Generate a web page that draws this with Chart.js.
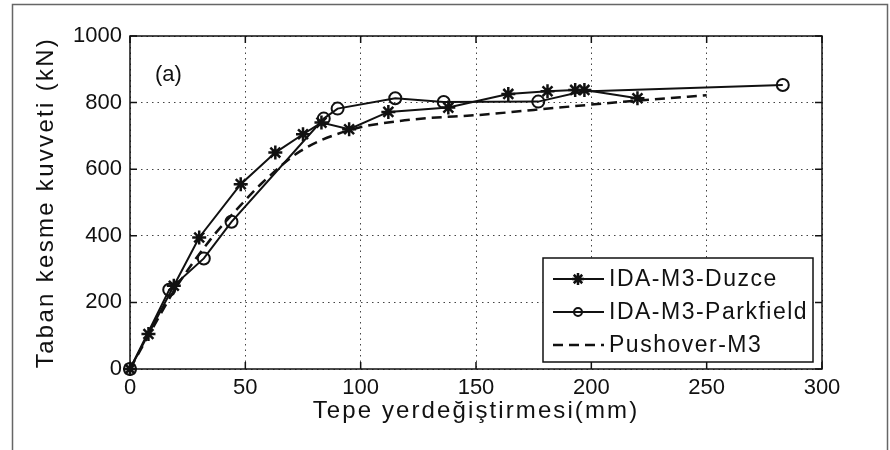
<!DOCTYPE html>
<html>
<head>
<meta charset="utf-8">
<script src="https://cdn.jsdelivr.net/npm/chart.js@4.4.0/dist/chart.umd.min.js"></script>
<style>
  html, body { margin: 0; padding: 0; background: #fff; }
  #wrap { width: 890px; height: 450px; }
</style>
</head>
<body>
<div id="wrap"><canvas id="chart" width="890" height="450"></canvas></div>
<script>
// Tepe yerdeğiştirmesi (mm) / Taban kesme kuvveti (kN)
const duzceX = [0, 8, 19, 30, 48, 63, 75, 83, 95, 112, 138, 164, 181, 193, 197, 220];
const duzceY = [0, 105, 250, 395, 555, 650, 705, 740, 720, 772, 785, 826, 834, 838, 838, 813];

const parkX = [0, 17, 32, 44, 84, 90, 115, 136, 177, 196, 283];
const parkY = [0, 238, 332, 442, 752, 782, 813, 802, 803, 833, 853];
// no marker drawn at the bend hidden under the Duzce stars
const parkMarker = [6, 6, 6, 6, 6, 6, 6, 6, 6, 0, 6];

const pushX = [0, 10, 20, 35, 48, 57, 74, 95, 117, 155, 175, 218, 250];
const pushY = [0, 125, 245, 390, 492, 557, 655, 717, 745, 765, 778, 805, 822];

const xTicks = [0, 50, 100, 150, 200, 250, 300];
const yTicks = [0, 200, 400, 600, 800, 1000];

const seriesNames = ['IDA-M3-Duzce', 'IDA-M3-Parkfield', 'Pushover-M3'];
const xTitle = 'Tepe yerdeğiştirmesi(mm)';
const yTitle = 'Taban kesme kuvveti (kN)';
const panelLabel = '(a)';

const INK = '#111';
const FONT = '"Liberation Sans", Arial, sans-serif';

const toPoints = (xs, ys) => xs.map((x, i) => ({ x: x, y: ys[i] }));

function spacedText(ctx, text, x, y, spacing) {
    if ('letterSpacing' in ctx) {
        ctx.letterSpacing = spacing + 'px';
        ctx.fillText(text, x, y);
        ctx.letterSpacing = '0px';
    } else {
        ctx.fillText(text, x, y);
    }
}

const decor = {
    id: 'decor',
    beforeDraw(chart) {
        const ctx = chart.ctx;
        ctx.save();
        ctx.fillStyle = '#fff';
        ctx.fillRect(0, 0, chart.width, chart.height);
        // outer picture frame
        ctx.strokeStyle = '#666';
        ctx.lineWidth = 1.5;
        ctx.strokeRect(12.5, 4.5, 875, 460);
        ctx.restore();
    },
    afterDraw(chart) {
        const ctx = chart.ctx;
        const a = chart.chartArea;
        const xs = chart.scales.x;
        const ys = chart.scales.y;
        ctx.save();

        // axes box
        ctx.strokeStyle = INK;
        ctx.lineWidth = 1.5;
        ctx.strokeRect(a.left, a.top, a.right - a.left, a.bottom - a.top);

        // inward tick marks on all four sides
        ctx.lineWidth = 1.5;
        ctx.beginPath();
        xTicks.forEach(v => {
            const px = xs.getPixelForValue(v);
            ctx.moveTo(px, a.bottom); ctx.lineTo(px, a.bottom - 7);
            ctx.moveTo(px, a.top); ctx.lineTo(px, a.top + 7);
        });
        yTicks.forEach(v => {
            const py = ys.getPixelForValue(v);
            ctx.moveTo(a.left, py); ctx.lineTo(a.left + 7, py);
            ctx.moveTo(a.right, py); ctx.lineTo(a.right - 7, py);
        });
        ctx.stroke();

        ctx.fillStyle = INK;
        ctx.textBaseline = 'middle';

        // panel label
        ctx.font = '22px ' + FONT;
        ctx.textAlign = 'left';
        ctx.fillText(panelLabel, 155, 75);

        // axis titles
        ctx.font = '24px ' + FONT;
        ctx.textAlign = 'center';
        spacedText(ctx, xTitle, (a.left + a.right) / 2, 411, 2.1);
        ctx.save();
        ctx.translate(46, (a.top + a.bottom) / 2);
        ctx.rotate(-Math.PI / 2);
        spacedText(ctx, yTitle, 0, 0, 2.3);
        ctx.restore();

        // legend box
        const lx = 543, ly = 258, lw = 270, lh = 104;
        ctx.fillStyle = '#fff';
        ctx.fillRect(lx, ly, lw, lh);
        ctx.strokeStyle = INK;
        ctx.lineWidth = 1.5;
        ctx.strokeRect(lx, ly, lw, lh);

        const rows = [279, 312, 345];
        chart.data.datasets.forEach((ds, i) => {
            const y = rows[i];
            ctx.save();
            ctx.strokeStyle = ds.borderColor;
            ctx.lineWidth = ds.borderWidth;
            ctx.setLineDash(ds.borderDash || []);
            ctx.beginPath();
            ctx.moveTo(553, y);
            ctx.lineTo(604, y);
            ctx.stroke();
            ctx.setLineDash([]);
            if (ds.pointStyle && ds.showMarkerInLegend) {
                ctx.fillStyle = ds.pointBackgroundColor;
                ctx.strokeStyle = ds.pointBorderColor;
                ctx.lineWidth = ds.pointBorderWidth;
                Chart.helpers.drawPoint(ctx, {
                    pointStyle: ds.pointStyle,
                    radius: ds.legendRadius,
                    borderWidth: ds.pointBorderWidth
                }, 578, y);
            }
            ctx.restore();
            ctx.fillStyle = INK;
            ctx.font = '23px ' + FONT;
            ctx.textAlign = 'left';
            spacedText(ctx, ds.label, 609, y + 1, 1.5);
        });

        ctx.restore();
    }
};

const ctx = document.getElementById('chart').getContext('2d');
const chart = new Chart(ctx, {
    type: 'scatter',
    data: {
        datasets: [
            {
                label: seriesNames[0],
                data: toPoints(duzceX, duzceY),
                showLine: true,
                borderColor: INK,
                borderWidth: 2,
                pointStyle: 'star',
                pointRadius: 7,
                pointBorderWidth: 2.5,
                pointBorderColor: INK,
                pointBackgroundColor: INK,
                legendRadius: 6,
                showMarkerInLegend: true,
                clip: false
            },
            {
                label: seriesNames[1],
                data: toPoints(parkX, parkY),
                showLine: true,
                borderColor: INK,
                borderWidth: 2,
                pointStyle: 'circle',
                pointRadius: parkMarker,
                pointBorderWidth: 2,
                pointBorderColor: INK,
                pointBackgroundColor: 'rgba(255,255,255,0)',
                legendRadius: 4,
                showMarkerInLegend: true,
                clip: false
            },
            {
                label: seriesNames[2],
                data: toPoints(pushX, pushY),
                showLine: true,
                borderColor: INK,
                borderWidth: 2.5,
                borderDash: [10, 6],
                cubicInterpolationMode: 'monotone',
                pointRadius: 0,
                showMarkerInLegend: false,
                clip: false
            }
        ]
    },
    options: {
        responsive: false,
        animation: false,
        events: [],
        layout: { padding: { left: 0, top: 36, right: 68, bottom: 0 } },
        plugins: {
            legend: { display: false },
            tooltip: { enabled: false }
        },
        scales: {
            x: {
                type: 'linear',
                min: 0,
                max: 300,
                afterFit: s => { s.height = 81; },
                afterBuildTicks: s => { s.ticks = xTicks.map(v => ({ value: v })); },
                border: { display: false, dash: [1.5, 4] },
                grid: {
                    color: '#444',
                    lineWidth: 1,
                    drawTicks: false
                },
                ticks: {
                    color: INK,
                    padding: 6,
                    font: { family: FONT, size: 22 },
                    callback: v => String(v)
                },
                title: { display: false }
            },
            y: {
                type: 'linear',
                min: 0,
                max: 1000,
                afterFit: s => { s.width = 130; },
                afterBuildTicks: s => { s.ticks = yTicks.map(v => ({ value: v })); },
                border: { display: false, dash: [1.5, 4] },
                grid: {
                    color: '#444',
                    lineWidth: 1,
                    drawTicks: false
                },
                ticks: {
                    color: INK,
                    padding: 8,
                    font: { family: FONT, size: 22 },
                    callback: v => String(v)
                },
                title: { display: false }
            }
        }
    },
    plugins: [decor]
});
</script>
</body>
</html>
